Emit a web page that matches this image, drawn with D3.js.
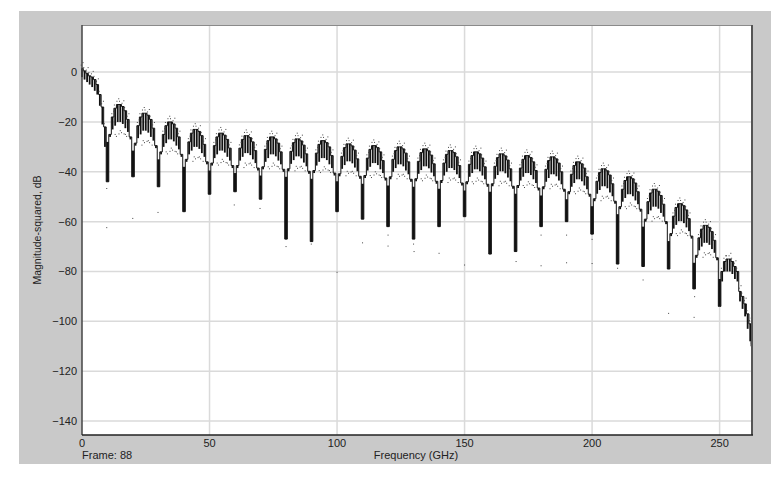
<!DOCTYPE html>
<html>
<head>
<meta charset="utf-8">
<script src="https://cdn.jsdelivr.net/npm/d3@7"></script>
<style>
  body { margin: 0; background: #fff; }
  svg { display: block; }
  text { font-family: "Liberation Sans", Arial, sans-serif; fill: #222; }
</style>
</head>
<body>
<div id="chart"></div>
<script>
// ticks
const xTicks = [0, 50, 100, 150, 200, 250];
const yTicks = [0, -20, -40, -60, -80, -100, -120, -140];

// main lobe, 0..9 GHz (upper / lower edge of the overlaid frames)
const mainFreq  = [0, 1, 2, 3, 4, 5, 6, 7, 8, 9];
const mainUpper = [1.5, 0.5, -0.5, -1.5, -2, -3, -5, -9, -14, -22];
const mainLower = [-2, -3, -4, -5, -6, -7.5, -9, -13.5, -21, -30];

// nulls every 10 GHz and their depth
const nullFreqs  = [10, 20, 30, 40, 50, 60, 70, 80, 90, 100, 110, 120, 130, 140, 150, 160, 170, 180, 190, 200, 210, 220, 230, 240, 250];
const nullDepths = [-44, -42, -46, -56, -49, -48, -51, -67, -68, -56, -59, -62, -67, -62, -58, -73, -72, -62, -60, -65, -77, -78, -79, -87, -94];

// top of each side lobe (10-20, 20-30, ... 240-250)
const lobePeaks = [-13, -16.5, -20, -23, -24.5, -25.5, -26, -26.8, -27.5, -28.8, -29.5, -30, -30.8, -31.5, -32, -32.8, -33.5, -34, -36, -38.8, -42, -47, -52.8, -61.5];

const lobeShape = [-12, -5, -1.5, 0, 0, -0.8, -2.5, -6, -13];
// how far the black frame bars reach below the top at each position
const bandDepth = [1, 5, 7, 7, 7, 7, 7, 5, 1];
// dotted inner arc under each lobe, positions 3..7 (dB from lobe top)
const innerArc = [-12, -11, -10.5, -11, -12];

// last lobe rolling off to the band edge
const tailFreq  = [251, 252, 253, 254, 255, 256, 257, 258, 259, 260, 261, 262, 262.7];
const tailUpper = [-80, -76, -75, -75, -76, -78, -80, -88, -90, -93, -97, -101, -110];
const tailLower = [-84, -80, -80, -80, -81, -83, -84, -92, -95, -98, -103, -108, -118];

// isolated frames below the nulls
const strayFreq = [9.7, 9.7, 19.9, 29.8, 59.7, 69.8, 80, 89.9, 100, 110, 120, 120, 130, 130.2, 140, 150, 170.2, 180, 180, 190, 190, 200, 200, 210, 220, 230, 240, 240.2, 250, 262.6];
const strayDb   = [-62.4, -46.7, -58.7, -56.3, -53.3, -54.7, -70, -69, -80.3, -68.5, -65.4, -69.8, -69, -72, -72.7, -77.4, -76, -77.7, -65.4, -65.4, -76.5, -67.1, -76.8, -78.7, -83.4, -96.8, -98.4, -90.1, -94, -116.8];

const haloOffsets = [1.3, 2.3];

const W = 778, H = 485;
const plot = {left: 82, top: 25, right: 752, bottom: 435};

const svg = d3.select("#chart").append("svg")
  .attr("width", W).attr("height", H);

svg.append("rect").attr("x", 19).attr("y", 11).attr("width", 752).attr("height", 453)
  .attr("fill", "#c9c9c9");
svg.append("rect").attr("x", plot.left).attr("y", plot.top)
  .attr("width", plot.right - plot.left).attr("height", plot.bottom - plot.top)
  .attr("fill", "#fff");

const x = d3.scaleLinear().domain([0, 262.7]).range([plot.left, plot.right]);
const y = d3.scaleLinear().domain([18.9, -145.6]).range([plot.top, plot.bottom]);

// grid
svg.append("g").selectAll("line").data(xTicks.filter(d => d > 0)).join("line")
  .attr("x1", d => x(d)).attr("x2", d => x(d))
  .attr("y1", plot.top).attr("y2", plot.bottom)
  .attr("stroke", "#dadada").attr("stroke-width", 1.5);
svg.append("g").selectAll("line").data(yTicks).join("line")
  .attr("x1", plot.left).attr("x2", plot.right)
  .attr("y1", d => y(d)).attr("y2", d => y(d))
  .attr("stroke", "#dadada").attr("stroke-width", 1.5);

// build the frequency bins
const bins = [];
mainFreq.forEach((f, i) => bins.push({f, hi: mainUpper[i], lo: mainLower[i], main: true}));
lobePeaks.forEach((p, k) => {
  lobeShape.forEach((s, j) => {
    bins.push({f: nullFreqs[k] + j + 1, hi: p + s, lo: p + s - bandDepth[j], pos: j + 1, peak: p});
  });
});
tailFreq.forEach((f, i) => bins.push({f, hi: tailUpper[i], lo: tailLower[i], tail: true}));

const trace = bins.map(b => ({f: b.f, v: b.hi}))
  .concat(nullFreqs.map((f, i) => ({f, v: nullDepths[i]})))
  .sort((a, b) => a.f - b.f);

const marks = svg.append("g");

// frame bars
marks.selectAll("rect.bar").data(bins).join("rect")
  .attr("class", "bar")
  .attr("x", d => x(d.f) - 0.9)
  .attr("width", 1.8)
  .attr("y", d => y(d.hi))
  .attr("height", d => y(d.lo) - y(d.hi))
  .attr("fill", "#111");

// outline of the strongest frame
marks.append("path").datum(trace)
  .attr("fill", "none").attr("stroke", "#111").attr("stroke-width", 1)
  .attr("d", d3.line().x(d => x(d.f)).y(d => y(d.v)).curve(d3.curveStep));

// null spikes
const byF = new Map(bins.map(b => [b.f, b]));
const spikeTop = d => Math.min(byF.get(d - 1).hi, byF.get(d + 1).hi) - 3;
marks.selectAll("rect.null").data(nullFreqs).join("rect")
  .attr("class", "null")
  .attr("x", d => x(d - 0.5))
  .attr("width", d => x(d + 0.5) - x(d - 0.5))
  .attr("y", d => y(spikeTop(d)))
  .attr("height", (d, i) => y(nullDepths[i]) - y(spikeTop(d)))
  .attr("fill", "#111");

// scattered frame points
const dots = [];
bins.forEach(b => {
  if (b.pos === 1 || b.pos === 9) return;
  dots.push({f: b.f - 0.3, v: b.hi + haloOffsets[0]});
  if (b.f % 2 === 0) dots.push({f: b.f + 0.4, v: b.hi + haloOffsets[1]});
});
lobePeaks.forEach((p, k) => {
  innerArc.forEach((a, j) => {
    if ((j + k) % 2 === 0) dots.push({f: nullFreqs[k] + j + 3, v: p + a});
    dots.push({f: nullFreqs[k] + j + 3.5, v: p + a - 0.8});
  });
});
strayFreq.forEach((f, i) => dots.push({f, v: strayDb[i]}));

marks.selectAll("rect.dot").data(dots).join("rect")
  .attr("class", "dot")
  .attr("x", d => x(d.f) - 0.5).attr("y", d => y(d.v) - 0.5)
  .attr("width", 1).attr("height", 1)
  .attr("fill", "#444");

// frame border
svg.append("line").attr("x1", plot.left).attr("x2", plot.right).attr("y1", plot.top + 0.5).attr("y2", plot.top + 0.5)
  .attr("stroke", "#8a8a8a").attr("stroke-width", 1);
svg.append("line").attr("x1", plot.right).attr("x2", plot.right).attr("y1", plot.top).attr("y2", plot.bottom)
  .attr("stroke", "#555").attr("stroke-width", 2);
svg.append("line").attr("x1", plot.left).attr("x2", plot.left).attr("y1", plot.top).attr("y2", plot.bottom)
  .attr("stroke", "#444").attr("stroke-width", 1.5);
svg.append("line").attr("x1", plot.left).attr("x2", plot.right + 1).attr("y1", plot.bottom).attr("y2", plot.bottom)
  .attr("stroke", "#222").attr("stroke-width", 1.5);

// tick labels
svg.append("g").selectAll("text").data(xTicks).join("text")
  .attr("x", d => x(d)).attr("y", 447)
  .attr("text-anchor", "middle").attr("font-size", 11)
  .text(d => d);
svg.append("g").selectAll("text").data(yTicks).join("text")
  .attr("x", 77).attr("y", d => y(d) + 4)
  .attr("text-anchor", "end").attr("font-size", 11)
  .text(d => d3.format("d")(d));

svg.append("text").attr("x", 82).attr("y", 459).attr("font-size", 11).text("Frame: 88");
svg.append("text").attr("x", 416).attr("y", 459).attr("text-anchor", "middle").attr("font-size", 11)
  .text("Frequency (GHz)");
svg.append("text")
  .attr("transform", "translate(41,230) rotate(-90)")
  .attr("text-anchor", "middle").attr("font-size", 10.5)
  .text("Magnitude-squared, dB");
</script>
</body>
</html>
